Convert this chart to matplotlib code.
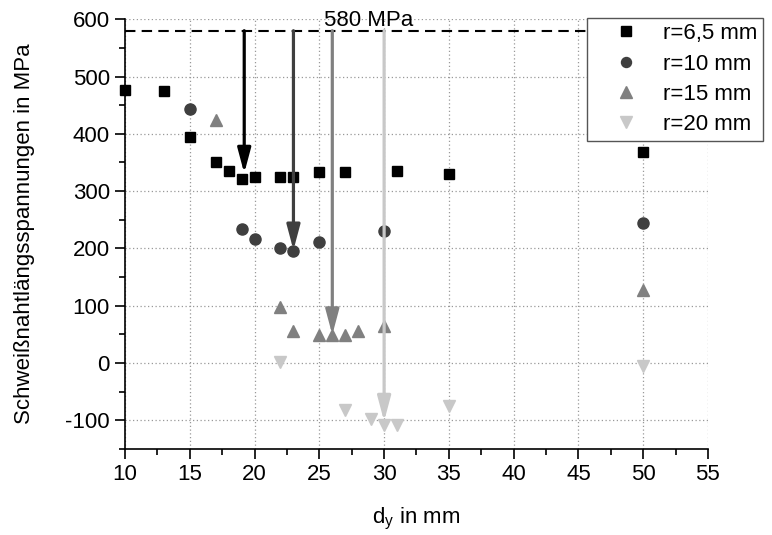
import matplotlib
matplotlib.use("Agg")
import matplotlib.pyplot as plt
from matplotlib.ticker import MultipleLocator

plt.rcParams['font.family'] = ['Liberation Sans', 'DejaVu Sans']
plt.rcParams['axes.unicode_minus'] = False

# data
x_r65 = [10, 13, 15, 17, 18, 19, 20, 22, 23, 25, 27, 31, 35, 50]
y_r65 = [476, 475, 395, 351, 335, 322, 325, 324, 324, 334, 334, 335, 329, 369]
x_r10 = [15, 19, 20, 22, 23, 25, 30, 50]
y_r10 = [444, 234, 217, 201, 196, 212, 231, 245]
x_r15 = [17, 22, 23, 25, 26, 27, 28, 30, 50]
y_r15 = [424, 98, 55, 48, 48, 48, 56, 65, 127]
x_r20 = [22, 27, 29, 30, 31, 35, 50]
y_r20 = [2, -83, -98, -108, -108, -75, -5]
labels = ["r=6,5 mm", "r=10 mm", "r=15 mm", "r=20 mm"]
limit = 580
arrow_x = [19.2, 23, 26, 30]
arrow_end = [331, 197, 49, -102]

colors = ["#000000", "#3f3f3f", "#808080", "#c8c8c8"]
markers = ["s", "o", "^", "v"]
sizes = [7.5, 8, 9, 9]

fig = plt.figure(figsize=(7.72, 5.35), dpi=100)
ax = fig.add_axes([0.162, 0.161, 0.755, 0.803])

series = [(x_r65, y_r65), (x_r10, y_r10), (x_r15, y_r15), (x_r20, y_r20)]
handles = []
for (xs, ys), c, m, s, lab in zip(series, colors, markers, sizes, labels):
    h, = ax.plot(xs, ys, linestyle='none', marker=m, markersize=s, color=c,
                 markeredgecolor=c, label=lab, zorder=4, clip_on=False)
    handles.append(h)

ax.axhline(limit, color='black', linestyle=(0, (5, 3)), linewidth=1.5, zorder=3)
for xa, ye, c in zip(arrow_x, arrow_end, colors):
    ax.annotate('', xy=(xa, ye), xytext=(xa, limit),
                arrowprops=dict(arrowstyle='-|>,head_length=1.5,head_width=0.4',
                                color=c, lw=2.3, shrinkA=0, shrinkB=0), zorder=5)

ax.text(28.8, 588, "580 MPa", ha='center', va='baseline', fontsize=16, clip_on=False)

ax.xaxis.set_major_locator(MultipleLocator(5))
ax.xaxis.set_minor_locator(MultipleLocator(2.5))
ax.yaxis.set_major_locator(MultipleLocator(100))
ax.yaxis.set_minor_locator(MultipleLocator(50))
ax.set_xlim(10, 55)
ax.set_ylim(-150, 600)
ax.grid(True, which='major', linestyle=(0, (1, 2)), color='#999999', linewidth=0.9)
ax.set_axisbelow(True)
for sp in ['top', 'right']:
    ax.spines[sp].set_visible(False)
for sp in ['left', 'bottom']:
    ax.spines[sp].set_linewidth(1.2)
ax.tick_params(which='major', direction='out', length=7, width=1.2, labelsize=16, pad=4)
ax.tick_params(which='minor', direction='out', length=4, width=1.2)

ax.set_xlabel(r"d$_\mathregular{y}$ in mm", fontsize=16, labelpad=15)
ax.set_ylabel("Schweißnahtlängsspannungen in MPa", fontsize=16, labelpad=22)

leg = fig.legend(handles=handles, loc='upper left', bbox_to_anchor=(0.76, 0.967),
                 fontsize=16, frameon=True, fancybox=False, edgecolor='#555555',
                 framealpha=1.0, handletextpad=0.2, borderpad=0.25, labelspacing=0.42,
                 handlelength=3.0, borderaxespad=0, markerscale=0.9)
leg.get_frame().set_linewidth(1.0)
leg.set_zorder(10)

fig.savefig("out.png", dpi=100)
